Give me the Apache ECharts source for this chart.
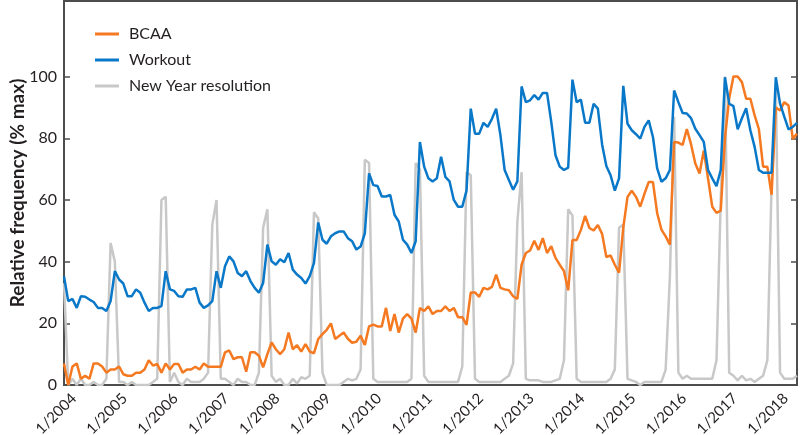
<!DOCTYPE html>
<html>
<head>
<meta charset="utf-8">
<script src="https://cdn.jsdelivr.net/npm/echarts@6/dist/echarts.min.js"></script>
<style>
  html, body { margin: 0; padding: 0; background: #fff; }
  #chart { width: 800px; height: 435px; }
</style>
</head>
<body>
<div id="chart"></div>
<script>
// Years shown (monthly data Jan 2004 - Jun 2018)
const years = [2004, 2005, 2006, 2007, 2008, 2009, 2010, 2011, 2012, 2013, 2014, 2015, 2016, 2017, 2018];
const lastYearMonths = 6;
const yTicks = [0, 20, 40, 60, 80, 100];

const bcaa = [
  7, 0, 6, 7, 2, 3, 2, 7, 7, 6, 4, 5,
  5, 6, 3.5, 3, 3, 4, 4, 5, 8, 6.3, 6.8, 4,
  7, 5, 6.8, 6.8, 4, 5, 5, 5.9, 5, 7, 5.9, 5.9,
  5.9, 5.9, 10.6, 11.2, 8.4, 9, 9, 4.3, 10.6, 10.6, 9.5, 5.7,
  10, 13.8, 11.6, 10, 11.6, 17, 11.6, 12.9, 10.8, 13.3, 10.8, 10.3,
  14.9, 16.5, 17.9, 20, 14.9, 16, 17, 15, 13.7, 14, 16, 13,
  19, 19.6, 19, 19, 25, 17.5, 23, 17, 21.5, 23, 21.5, 17,
  25, 24, 25.5, 23, 24, 24, 25.5, 24, 25, 22, 22, 19.5,
  30, 30, 28.6, 31.5, 31, 31.8, 35.8, 31.5, 31, 30.7, 28.8, 27.9,
  39, 42.8, 43.6, 46.8, 43.8, 47.6, 42.8, 45, 41.2, 39, 36.9, 30.7,
  47, 47, 50.3, 54.8, 50.9, 50.1, 51.9, 49, 41.5, 42, 39, 36.4,
  51, 61, 63, 61, 57.8, 62, 65.8, 65.8, 55.7, 50.4, 48.2, 45.5,
  78.8, 78.6, 77.8, 83, 78, 71.8, 68.6, 76, 67, 57.8, 55.8, 56.5,
  80, 93, 100, 100, 98.2, 92.8, 92.8, 87.4, 83, 70.8, 70.8, 61.7,
  90, 89, 91.7, 90.6, 79.8, 81.5
];

const workout = [
  35.2, 27.2, 27.9, 25, 28.8, 28.6, 27.7, 26.9, 25, 25, 24, 27.2,
  36.9, 34.2, 32.9, 28.8, 28.8, 31, 29.9, 26.7, 24, 25, 25, 25.6,
  36.9, 31, 30.5, 28.8, 28.6, 31, 31, 31.5, 26.7, 25, 25.8, 27.2,
  36.9, 31.5, 38.5, 41.7, 40.1, 36.3, 35.3, 36.9, 33.7, 31.5, 29.9, 33.1,
  45.5, 40.1, 39, 40.8, 39.8, 42.8, 37.4, 35.8, 34.7, 32.9, 35.3, 39.6,
  52.7, 47.1, 45.8, 48.2, 49.2, 49.8, 49.8, 47.6, 46.6, 43.9, 44.9, 49.2,
  68.6, 64.8, 64.5, 61.1, 61.1, 61.6, 55.2, 53, 47.1, 45.5, 42.8, 46.6,
  78.8, 70.8, 67, 66, 67, 74, 67.5, 66, 60, 57.8, 57.8, 63,
  89.6, 81.5, 81.5, 85, 83.7, 86.3, 89.6, 81, 69.7, 66.5, 63.3, 66,
  96.8, 91.7, 92.3, 94, 92.5, 94.7, 94.7, 85.3, 74.5, 70.8, 69.7, 70.5,
  99, 91.7, 92.5, 85, 85, 91.2, 89.6, 78, 71, 68, 63, 67,
  97, 84.7, 82.6, 81.3, 79.9, 83.7, 85.8, 80.4, 70.2, 65.9, 67, 69.7,
  95.5, 91.7, 88.2, 88, 86.5, 83.1, 81, 78.8, 69.7, 67, 64.5, 69.7,
  99.8, 91.2, 90.4, 82.9, 86.5, 89.7, 82.5, 77.2, 69.7, 68.8, 68.8, 68.8,
  99.8, 91.2, 87, 82.9, 83.7, 85
];

const newYear = [
  33, 0, 2, 0, 2, 0, 0, 1, 0, 0, 2, 46,
  40, 1, 1, 0, 1, 0, 0, 0, 0, 1, 2, 60,
  61, 1, 4, 1, 0, 2, 1, 1, 1, 2, 4, 52,
  60, 2, 2, 1, 0, 2, 1, 1, 0, 0, 4, 51,
  57, 3, 1, 2, 0, 0, 2, 0.5, 2.5, 2, 3, 56,
  54, 4, 0, 0, 0, 0, 1, 2, 1.5, 2, 5, 73,
  72, 2, 1, 1, 1, 1, 1, 1, 1, 1, 2, 72,
  70, 3, 1, 1, 1, 1, 1, 1, 1, 1, 6, 69,
  68, 2, 1, 1, 1, 1, 1, 1, 2, 3, 7, 53,
  69, 2, 1.5, 1.5, 1.5, 1, 1, 1, 1.5, 2, 8, 57,
  55, 2, 1, 1, 1, 1, 1, 1, 1, 2, 5, 51,
  52, 2, 1.5, 1, 0, 1, 1, 1, 1, 1, 5, 35,
  87, 4, 2, 3, 2, 2, 2, 2, 2, 2, 8, 60,
  100, 4, 3, 1.5, 3, 1.5, 2, 1, 2, 3, 8, 65,
  97, 4, 2, 2, 2, 3
];

// category labels "m/yyyy"
const categories = [];
years.forEach((y, yi) => {
  const n = yi === years.length - 1 ? lastYearMonths : 12;
  for (let m = 1; m <= n; m++) categories.push(m + '/' + y);
});

const FONT = 'Lato';
const chart = echarts.init(document.getElementById('chart'), null, { renderer: 'canvas' });
const axisColor = '#4d4d4d';
const textColor = '#231f20';
chart.setOption({
  animation: false,
  textStyle: { fontFamily: FONT },
  grid: { left: 64, right: 3, top: 1, bottom: 50, show: true, borderColor: axisColor, borderWidth: 2,
          containLabel: false, outerBoundsMode: 'none' },
  legend: {
    orient: 'vertical', left: 90, top: 21, itemGap: 10,
    itemWidth: 24, itemHeight: 3, icon: 'rect',
    data: ['BCAA', 'Workout', 'New Year resolution'],
    textStyle: { fontFamily: FONT, fontSize: 16, color: textColor, padding: [0, 0, 0, 5] }
  },
  xAxis: {
    type: 'category', data: categories, boundaryGap: false,
    axisLine: { show: true, lineStyle: { color: axisColor, width: 2 } },
    axisTick: { show: false },
    axisLabel: {
      interval: (idx) => idx % 12 === 0,
      rotate: 45, fontSize: 15, color: textColor, margin: 1, fontFamily: FONT,
      verticalAlign: 'top', lineHeight: 28
    },
    splitLine: { show: false }
  },
  yAxis: [{
    type: 'value', min: 0, max: 124.5, position: 'left',
    name: 'Relative frequency (% max)', nameLocation: 'middle', nameGap: 37,
    nameMoveOverlap: false,
    nameTextStyle: { fontFamily: FONT, fontSize: 19, fontWeight: 'bold', color: textColor },
    axisLine: { show: true, lineStyle: { color: axisColor, width: 2 } },
    axisTick: { show: true, inside: true, length: 6, customValues: yTicks, lineStyle: { color: axisColor, width: 1.5 } },
    axisLabel: { customValues: yTicks, fontSize: 16, color: textColor, margin: 7, fontFamily: FONT },
    splitLine: { show: false }
  }, {
    type: 'value', min: 0, max: 124.5, position: 'right',
    axisLine: { show: true, lineStyle: { color: axisColor, width: 2 } },
    axisTick: { show: true, inside: true, length: 6, customValues: yTicks, lineStyle: { color: axisColor, width: 1.5 } },
    axisLabel: { show: false },
    splitLine: { show: false }
  }],
  series: [
    { name: 'New Year resolution', type: 'line', data: newYear, symbol: 'none', z: 1,
      lineStyle: { color: '#c8c8c8', width: 2.5 }, itemStyle: { color: '#c8c8c8' } },
    { name: 'BCAA', type: 'line', data: bcaa, symbol: 'none', z: 2,
      lineStyle: { color: '#f47920', width: 2.5 }, itemStyle: { color: '#f47920' } },
    { name: 'Workout', type: 'line', data: workout, symbol: 'none', z: 3,
      lineStyle: { color: '#0a78c8', width: 2.5 }, itemStyle: { color: '#0a78c8' } }
  ]
});
</script>
</body>
</html>
